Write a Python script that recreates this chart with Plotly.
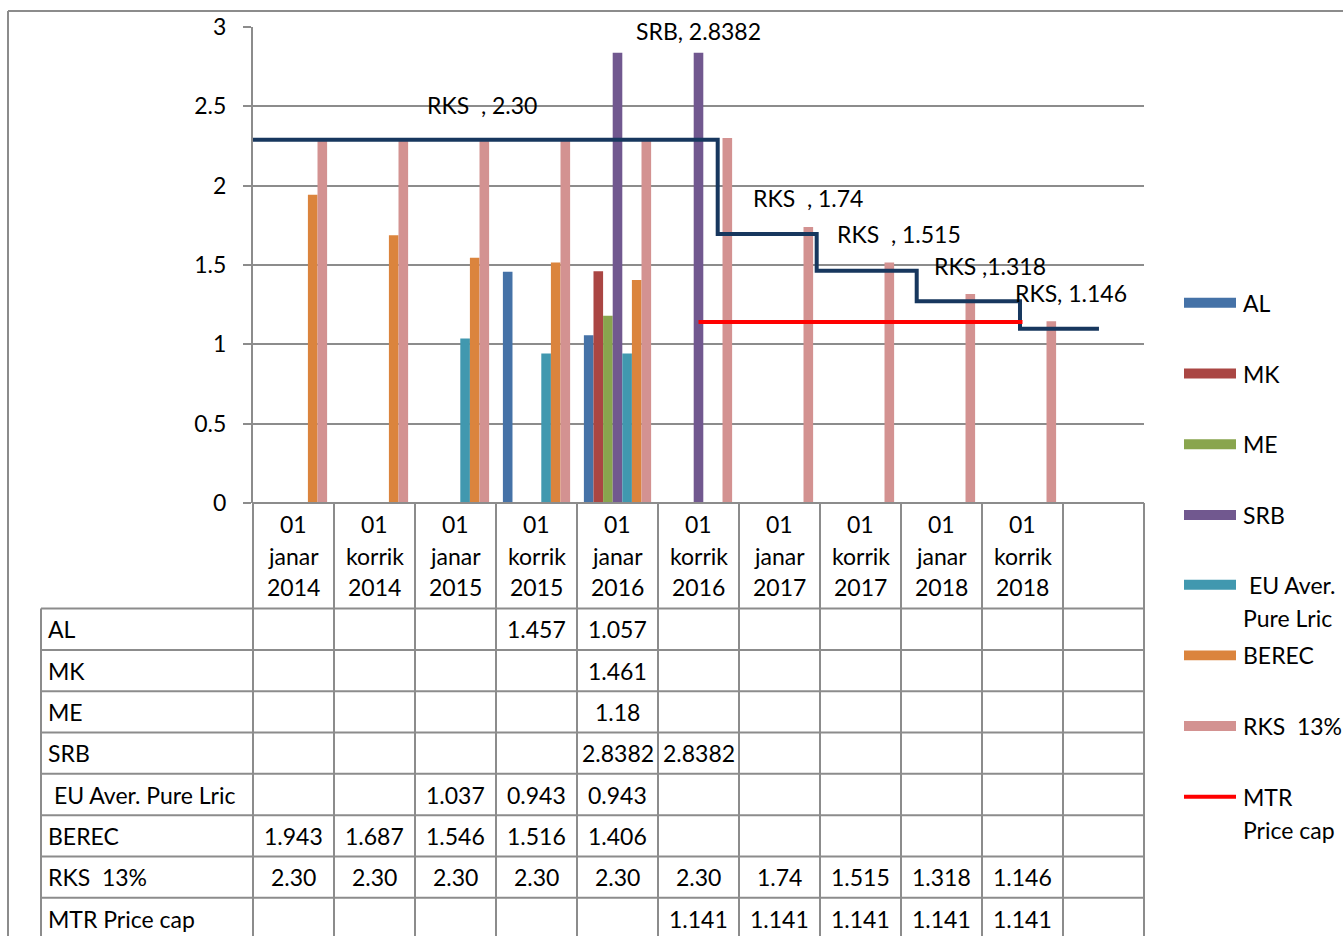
import plotly.graph_objects as go

# ---------------- data ----------------
categories = ["01 janar 2014", "01 korrik 2014", "01 janar 2015", "01 korrik 2015",
              "01 janar 2016", "01 korrik 2016", "01 janar 2017", "01 korrik 2017",
              "01 janar 2018", "01 korrik 2018"]
al    = [None, None, None, 1.457, 1.057, None, None, None, None, None]
mk    = [None, None, None, None, 1.461, None, None, None, None, None]
me    = [None, None, None, None, 1.18, None, None, None, None, None]
srb   = [None, None, None, None, 2.8382, 2.8382, None, None, None, None]
eu    = [None, None, 1.037, 0.943, 0.943, None, None, None, None, None]
berec = [1.943, 1.687, 1.546, 1.516, 1.406, None, None, None, None, None]
rks   = [2.30, 2.30, 2.30, 2.30, 2.30, 2.30, 1.74, 1.515, 1.318, 1.146]
mtr   = [None, None, None, None, None, 1.141, 1.141, 1.141, 1.141, 1.141]

series_names = ["AL", "MK", "ME", "SRB", "\u00a0EU Aver. Pure Lric", "BEREC", "RKS\u00a0 13%", "MTR Price cap"]
legend_names = [["AL"], ["MK"], ["ME"], ["SRB"], ["\u00a0EU Aver.", "Pure Lric"], ["BEREC"],
                ["RKS\u00a0 13%"], ["MTR", "Price cap"]]
bar_colors = ["#4572A7", "#AA4643", "#89A54E", "#71588F", "#4198AF", "#DB843D", "#D39291"]
mtr_color = "#FF0000"
step_color = "#17375E"

# hand-drawn RKS step line (category units / values)
step_x = [-0.6, 5.237, 6.459, 7.694, 8.969, 9.944]
step_levels = [2.29, 1.695, 1.463, 1.272, 1.098]

rks_label_texts = ["RKS\u00a0 , 2.30", "RKS\u00a0 , 1.74", "RKS\u00a0 , 1.515", "RKS ,1.318", "RKS, 1.146"]
srb_label_text = "SRB, 2.8382"
ytick_vals = [0, 0.5, 1, 1.5, 2, 2.5, 3]
ytick_text = ["0", "0.5", "1", "1.5", "2", "2.5", "3"]

# ---------------- geometry ----------------
W, H = 1343, 936
PL, PR, PT, PB = 253, 1144, 25, 503
NCOL = 11
FONT = "Lato"
FS = 23
GRID = "#8c8c8c"


def fx(px):
    return (px - PL) / (PR - PL)


def fy(py):
    return (PB - py) / (PB - PT)


def col_paper(i):
    return i / NCOL


def fmt(v):
    s = ("%.4f" % v).rstrip("0")
    dec = s.split(".")[1] if "." in s else ""
    if len(dec) < 2:
        s = "%.2f" % v
    return s


xpos = list(range(len(categories)))
series_vals = [al, mk, me, srb, eu, berec, rks]

fig = go.Figure()
for name, vals, col in zip(series_names[:7], series_vals, bar_colors):
    fig.add_trace(go.Bar(x=xpos, y=vals, name=name, marker=dict(color=col, line=dict(width=0)),
                         showlegend=False, hoverinfo="skip"))

fig.add_trace(go.Scatter(x=step_x, y=step_levels + [step_levels[-1]], mode="lines",
                         line=dict(color=step_color, width=4, shape="hv"),
                         showlegend=False, hoverinfo="skip"))
fig.add_trace(go.Scatter(x=xpos, y=mtr, mode="lines", name="MTR Price cap",
                         line=dict(color=mtr_color, width=4), showlegend=False, hoverinfo="skip"))

shapes = []
line = dict(color=GRID, width=2)
# outer frame
shapes.append(dict(type="line", xref="paper", yref="paper", x0=fx(8), x1=fx(W + 5), y0=fy(9), y1=fy(9), line=line))
shapes.append(dict(type="line", xref="paper", yref="paper", x0=fx(8), x1=fx(8), y0=fy(9), y1=fy(H + 5), line=line))

# table geometry
row_top = 609
row_h = 41.5
nrows = len(series_names)
row_lines = [row_top + k * row_h for k in range(nrows + 1)]
label_left = 41
# horizontal table lines
shapes.append(dict(type="line", xref="paper", yref="paper", x0=0, x1=1, y0=0, y1=0, line=line))
for ry in row_lines:
    shapes.append(dict(type="line", xref="paper", yref="paper", x0=fx(label_left), x1=1,
                       y0=fy(ry), y1=fy(ry), line=line))
# vertical table lines
for i in range(NCOL + 1):
    shapes.append(dict(type="line", xref="paper", yref="paper", x0=col_paper(i), x1=col_paper(i),
                       y0=0, y1=fy(row_lines[-1]), line=line))
shapes.append(dict(type="line", xref="paper", yref="paper", x0=fx(label_left), x1=fx(label_left),
                   y0=fy(row_top), y1=fy(row_lines[-1]), line=line))

annotations = []
tf = dict(family=FONT, size=FS, color="black")
# header labels
header_lines_y = [524, 556, 587]
for i, cat in enumerate(categories):
    parts = cat.split(" ")
    for p, yy in zip(parts, header_lines_y):
        annotations.append(dict(x=i, xref="x", y=fy(yy), yref="paper", text=p, showarrow=False,
                                xanchor="center", yanchor="middle", font=tf))
# row labels and cells
table_vals = [al, mk, me, srb, eu, berec, rks, mtr]
for r, (name, vals) in enumerate(zip(series_names, table_vals)):
    cy = row_top + (r + 0.5) * row_h
    annotations.append(dict(x=fx(46), xref="paper", y=fy(cy), yref="paper", text=name,
                            showarrow=False, xanchor="left", yanchor="middle", font=tf))
    for i, v in enumerate(vals):
        if v is None:
            continue
        annotations.append(dict(x=i, xref="x", y=fy(cy), yref="paper", text=fmt(v), showarrow=False,
                                xanchor="center", yanchor="middle", font=tf))

# data labels on chart
annotations.append(dict(x=5.0, xref="x", y=2.975, yref="y", text=srb_label_text, showarrow=False,
                        xanchor="center", yanchor="middle", font=tf))
rks_label_pos = [(2.33, 2.51), (6.35, 1.92), (7.48, 1.695), (8.6, 1.495), (9.6, 1.325)]
for (lx, ly), t in zip(rks_label_pos, rks_label_texts):
    annotations.append(dict(x=lx, xref="x", y=ly, yref="y", text=t, showarrow=False,
                            xanchor="center", yanchor="middle", font=tf))

# manual legend
leg_y = [302, 373, 444, 515, 585, 656, 727, 798]
leg_line_gap = 33
for k, (names, ly) in enumerate(zip(legend_names, leg_y)):
    if k < 7:
        shapes.append(dict(type="rect", xref="paper", yref="paper", x0=fx(1184), x1=fx(1236),
                           y0=fy(ly - 5), y1=fy(ly + 5), fillcolor=bar_colors[k], line=dict(width=0)))
    else:
        shapes.append(dict(type="line", xref="paper", yref="paper", x0=fx(1184), x1=fx(1236),
                           y0=fy(ly), y1=fy(ly), line=dict(color=mtr_color, width=4)))
    for j, nm in enumerate(names):
        annotations.append(dict(x=fx(1241), xref="paper", y=fy(ly + j * leg_line_gap), yref="paper",
                                text=nm, showarrow=False, xanchor="left", yanchor="middle", font=tf))

fig.update_layout(
    width=W, height=H,
    margin=dict(l=PL, r=W - PR, t=PT, b=H - PB, pad=0),
    paper_bgcolor="white", plot_bgcolor="white",
    barmode="group", bargap=0.17, bargroupgap=0,
    showlegend=False,
    font=dict(family=FONT, size=FS, color="black"),
    xaxis=dict(range=[-0.5, NCOL - 0.5], showticklabels=False, showgrid=False, zeroline=False,
               showline=False, ticks="", fixedrange=True),
    yaxis=dict(range=[0, 3], tickvals=ytick_vals, ticktext=ytick_text, showgrid=True,
               gridcolor=GRID, gridwidth=2, zeroline=False, showline=True, linecolor=GRID,
               linewidth=2, ticks="outside", ticklen=8, tickwidth=2, tickcolor=GRID,
               tickfont=dict(family=FONT, size=FS, color="black"), ticklabelstandoff=12,
               fixedrange=True),
    shapes=shapes, annotations=annotations,
)

fig.write_html("out.html", config={"displayModeBar": False},
               post_script="document.body.style.margin='0px';")
